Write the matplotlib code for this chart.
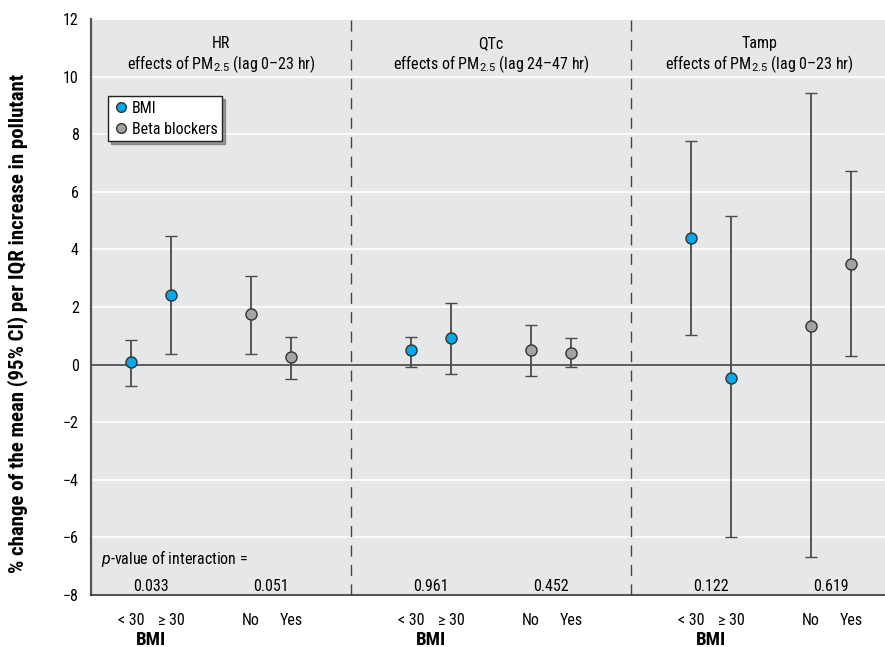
import numpy as np
import matplotlib.pyplot as plt
from matplotlib.lines import Line2D

plt.rcParams['font.family'] = ['Roboto Condensed', 'Liberation Sans Narrow', 'Roboto', 'DejaVu Sans']
plt.rcParams['mathtext.fontset'] = 'custom'
plt.rcParams['mathtext.rm'] = 'Roboto'
plt.rcParams['mathtext.it'] = 'Roboto:italic'

# x positions of the groups (4 per panel)
xpos = [1, 2, 4, 5, 8, 9, 11, 12, 15, 16, 18, 19]
xlabels = ['< 30', '\u2265 30', 'No', 'Yes'] * 3
groups = ['BMI', 'BMI', 'Beta', 'Beta'] * 3

est = [0.08, 2.41, 1.74, 0.25, 0.49, 0.93, 0.50, 0.42, 4.41, -0.46, 1.35, 3.51]
lower = [-0.73, 0.36, 0.38, -0.50, -0.07, -0.34, -0.39, -0.07, 1.02, -6.0, -6.68, 0.29]
upper = [0.85, 4.45, 3.07, 0.95, 0.97, 2.15, 1.39, 0.92, 7.77, 5.16, 9.43, 6.71]

panel_titles = ['HR', 'QTc', 'Tamp']
panel_sub = ['effects of PM$_{2.5}$ (lag 0\u201323 hr)',
             'effects of PM$_{2.5}$ (lag 24\u201347 hr)',
             'effects of PM$_{2.5}$ (lag 0\u201323 hr)']
panel_centers = [3.25, 10, 16.7]
dividers = [6.5, 13.5]

pvals = ['0.033', '0.051', '0.961', '0.452', '0.122', '0.619']
pval_x = [1.5, 4.5, 8.5, 11.5, 15.5, 18.5]

blue = '#00a8e8'
grey = '#a3a3a3'

fig = plt.figure(figsize=(8.85, 6.47), dpi=100)
ax = fig.add_axes([0.103, 0.0804, 0.897, 0.8902])
ax.set_facecolor('#e6e7e9')

ax.set_xlim(0, 19.85)
ax.set_ylim(-8, 12)
ax.set_yticks(np.arange(-8, 13, 2))
ax.yaxis.grid(True, color='white', lw=1.2)
ax.set_axisbelow(True)
ax.tick_params(axis='both', length=0, labelsize=11.5)
ax.tick_params(axis='y', pad=9)
ax.tick_params(axis='x', pad=13)
ax.set_xticks(xpos)
ax.set_xticklabels(xlabels)

for s in ['top', 'right']:
    ax.spines[s].set_visible(False)
ax.spines['left'].set_color('#555555')
ax.spines['left'].set_linewidth(1.6)
ax.spines['bottom'].set_color('#333333')
ax.spines['bottom'].set_linewidth(1.2)

ax.axhline(0, color='#333333', lw=1.1, zorder=1)
for d in dividers:
    ax.axvline(d, color='#444444', lw=1.0, ls=(0, (8, 6)), zorder=1)

for x, e, lo, hi, g in zip(xpos, est, lower, upper, groups):
    c = blue if g == 'BMI' else grey
    ax.errorbar(x, e, yerr=[[e - lo], [hi - e]], fmt='o', color='#3a3a3a',
                ecolor='#4a4a4a', elinewidth=1.3, capsize=4, capthick=1.3,
                markerfacecolor=c, markeredgecolor='#333333',
                markeredgewidth=1.0, markersize=8, zorder=3)

for c, t, s in zip(panel_centers, panel_titles, panel_sub):
    ax.text(c, 11.15, t, ha='center', va='center', fontsize=11.5)
    ax.text(c, 10.42, s, ha='center', va='center', fontsize=11.5)

ax.text(0.25, -6.72, '$p$-value of interaction =', ha='left', va='center',
        fontsize=11.5)
for x, p in zip(pval_x, pvals):
    ax.text(x, -7.72, p, ha='center', va='center', fontsize=11.5)

for x in [1.5, 8.5, 15.5]:
    ax.text(x, -9.55, 'BMI', ha='center', va='center', fontsize=13.5,
            fontweight='bold')

ax.set_ylabel('% change of the mean (95% CI) per IQR increase in pollutant',
              fontsize=15, fontweight='bold')
ax.yaxis.set_label_coords(-0.079, 0.472)

handles = [Line2D([], [], marker='o', ls='none', markerfacecolor=blue,
                  markeredgecolor='#333333', markersize=7),
           Line2D([], [], marker='o', ls='none', markerfacecolor=grey,
                  markeredgecolor='#333333', markersize=7)]
leg = ax.legend(handles, ['BMI', 'Beta blockers'], loc='upper left',
                bbox_to_anchor=(0.021, 0.866), fontsize=11.5, frameon=True,
                fancybox=False, shadow=True, edgecolor='#222222',
                framealpha=1, handletextpad=0.2, borderpad=0.3,
                handlelength=1.0, borderaxespad=0, labelspacing=0.35)
leg.get_frame().set_linewidth(1.0)

fig.savefig('out.png', dpi=100)
